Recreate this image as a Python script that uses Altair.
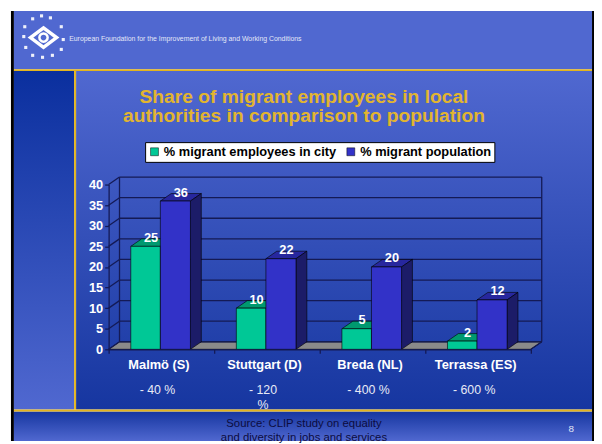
import altair as alt
import pandas as pd

# ---------------- data ----------------
cities = ["Malmö (S)", "Stuttgart (D)", "Breda (NL)", "Terrassa (ES)"]
employees_share = [25, 10, 5, 2]
population_share = [36, 22, 20, 12]
change_labels = ["- 40 %", "- 120\n%", "- 400 %", "- 600 %"]
series = ["% migrant employees in city", "% migrant population"]
y_ticks = [0, 5, 10, 15, 20, 25, 30, 35, 40]
title_lines = ["Share of migrant employees in local",
               "authorities in comparison to population"]
source_lines = ["Source: CLIP study on equality",
                "and diversity in jobs and services"]
header_text = "European Foundation for the Improvement of Living and Working Conditions"
page_number = "8"

# ---------------- styles ----------------
W, H = 594, 436
FONT = "Liberation Sans"
GREEN, GREEN_TOP = "#00c896", "#00996f"
BLUE, BLUE_TOP, BLUE_SIDE = "#3232c8", "#27279e", "#1c1c68"
GRID = "#141a55"
GOLD = "#e2b52f"
YELLOW = "#e3b41e"
LIGHT = "#5068d0"
DARK = "#1636a0"

XS = alt.Scale(domain=[0, 4], range=[102, 530], nice=False, zero=False)
YS = alt.Scale(domain=[0, 40], range=[343, 176], nice=False, zero=False)
DX, DY = 0.103, 1.82  # 3-D depth in data units

one = pd.DataFrame({"k": [0]})


def grad(top, bottom):
    return alt.LinearGradient(
        gradient="linear",
        stops=[alt.GradientStop(color=top, offset=0),
               alt.GradientStop(color=bottom, offset=1)],
        x1=0, x2=0, y1=0, y2=1)


def box(x, x2, y, y2, fill):
    return alt.Chart(one).mark_rect(fill=fill).encode(
        x=alt.value(x), x2=alt.value(x2), y=alt.value(y), y2=alt.value(y2))


def label(txt, x, y, size, color, weight="normal", align="center"):
    return alt.Chart(pd.DataFrame({"t": [txt]})).mark_text(
        font=FONT, fontSize=size, fontWeight=weight, color=color,
        align=align, baseline="middle").encode(
        x=alt.value(x), y=alt.value(y), text="t:N")


# ---------------- slide background ----------------
bg = [
    box(3, 6, 0, H, "black"),
    box(592, W, 0, H, "black"),
    box(6, 592, 0, 59, LIGHT),
    box(6, 67, 61, 404, grad("#0a2f9e", LIGHT)),
    box(69, 592, 61, 404, grad(LIGHT, DARK)),
    box(6, 592, 406, H, grad(DARK, LIGHT)),
    box(6, 592, 59, 61, YELLOW),
    box(67, 69, 61, 404, YELLOW),
    box(6, 592, 404, 406, YELLOW),
]

# ---------------- logo ----------------
logo_dots = pd.DataFrame({
    "ox": [-11, -2, 7, -19, 18, -20, 20, -18, 18, -11, -1, 9],
    "oy": [-19, -22, -20, -11, -11, -1, 2, 10, 12, 18, 20, 18],
})
LX, LY = 36, 27
logo_dots["px"] = LX + logo_dots["ox"]
logo_dots["py"] = LY + logo_dots["oy"]
dots = alt.Chart(logo_dots).mark_square(size=10, color="white", opacity=0.9).encode(
    x=alt.X("px:Q", scale=None), y=alt.Y("py:Q", scale=None))
diamond = alt.Chart(one).mark_point(
    shape="M-1,0L0,-0.75L1,0L0,0.75Z", size=700, filled=False,
    stroke="white", strokeWidth=3.5, opacity=1).encode(
    x=alt.value(LX), y=alt.value(LY))
inner = alt.Chart(one).mark_point(
    shape="circle", size=70, filled=False, stroke="white",
    strokeWidth=2.5, opacity=1).encode(x=alt.value(LX), y=alt.value(LY))
head_txt = alt.Chart(pd.DataFrame({"t": [header_text]})).mark_text(
    font=FONT, fontSize=7, color="white", align="left", baseline="middle",
    opacity=0.85).encode(x=alt.value(62), y=alt.value(28), text="t:N")

# ---------------- titles ----------------
title1 = label(title_lines[0], 300, 87, 19.5, GOLD, "bold")
title2 = label(title_lines[1], 300, 107, 19.5, GOLD, "bold")

# ---------------- 3-D frame ----------------
grid_rows = []
for v in y_ticks:
    grid_rows.append(dict(x=DX, x2=4 + DX, y=v + DY, y2=v + DY))
    grid_rows.append(dict(x=0, x2=DX, y=v, y2=v + DY))
grid_rows += [dict(x=DX, x2=DX, y=DY, y2=40 + DY),
              dict(x=4 + DX, x2=4 + DX, y=DY, y2=40 + DY),
              dict(x=4, x2=4 + DX, y=0, y2=DY)]
grid_df = pd.DataFrame(grid_rows)

floor_df = pd.DataFrame({"yy": [0, DY], "xa": [0, DX], "xb": [4, 4 + DX]})
floor = alt.Chart(floor_df).mark_area(
    orient="horizontal", fill="#8a8a8a", stroke="black", strokeWidth=0.8).encode(
    y=alt.Y("yy:Q", scale=YS, axis=None),
    x=alt.X("xa:Q", scale=XS, axis=None), x2="xb:Q")

yaxis = alt.Axis(values=y_ticks, offset=-102, title=None, grid=False, zindex=1,
                 labelColor="white", labelFont=FONT, labelFontSize=13,
                 labelFontWeight="bold", labelPadding=2,
                 tickColor=GRID, tickSize=4, tickWidth=1.3,
                 domainColor=GRID, domainWidth=1.3)
xaxis = alt.Axis(values=[0, 1, 2, 3, 4], offset=-93, title=None, grid=False,
                 labels=False, zindex=1, tickColor=GRID, tickSize=4,
                 tickWidth=1.3, domainColor=GRID, domainWidth=1.3)
grid = alt.Chart(grid_df).mark_rule(color=GRID, strokeWidth=1.3).encode(
    x=alt.X("x:Q", scale=XS, axis=xaxis), x2="x2:Q",
    y=alt.Y("y:Q", scale=YS, axis=yaxis), y2="y2:Q")

# ---------------- bars ----------------
rows = []
for i, c in enumerate(cities):
    ctr = i + 0.5
    for s, v, a, b in [(series[0], employees_share[i], -0.29, -0.01),
                       (series[1], population_share[i], -0.01, 0.275)]:
        rows.append(dict(city=c, series=s, v=v, x0=ctr + a, x1=ctr + b,
                         base=0, id=c + "|" + s))
bars = pd.DataFrame(rows)
bars["xc"] = (bars["x0"] + bars["x1"]) / 2 + DX / 2
bars["vt"] = bars["v"] + DY

tops = []
sides = []
for r in rows:
    tops.append(dict(id=r["id"], series=r["series"], yy=r["v"], xa=r["x0"], xb=r["x1"]))
    tops.append(dict(id=r["id"], series=r["series"], yy=r["v"] + DY,
                     xa=r["x0"] + DX, xb=r["x1"] + DX))
    sides.append(dict(id=r["id"], series=r["series"], xx=r["x1"], ya=r["v"], yb=0))
    sides.append(dict(id=r["id"], series=r["series"], xx=r["x1"] + DX,
                      ya=r["v"] + DY, yb=DY))
tops = pd.DataFrame(tops)
sides = pd.DataFrame(sides)


def top_layer(s, fill):
    return alt.Chart(tops[tops.series == s]).mark_area(
        orient="horizontal", fill=fill, stroke="black", strokeWidth=0.6).encode(
        y=alt.Y("yy:Q", scale=YS, axis=None),
        x=alt.X("xa:Q", scale=XS, axis=None), x2="xb:Q", detail="id:N")


def side_layer(s, fill):
    return alt.Chart(sides[sides.series == s]).mark_area(
        orient="vertical", fill=fill, stroke="black", strokeWidth=0.6).encode(
        x=alt.X("xx:Q", scale=XS, axis=None),
        y=alt.Y("ya:Q", scale=YS, axis=None), y2="yb:Q", detail="id:N")


front = alt.Chart(bars).mark_rect(stroke="black", strokeWidth=0.6).encode(
    x=alt.X("x0:Q", scale=XS, axis=None), x2="x1:Q",
    y=alt.Y("v:Q", scale=YS, axis=None), y2="base:Q",
    color=alt.Color("series:N",
                    scale=alt.Scale(domain=series, range=[GREEN, BLUE]),
                    legend=alt.Legend(
                        title=None, orient="none", legendX=139, legendY=133,
                        direction="horizontal", fillColor="white",
                        strokeColor="black", padding=3, symbolType="square",
                        symbolSize=64, symbolStrokeWidth=0.5,
                        symbolStrokeColor="black", labelLimit=400,
                        labelFont=FONT, labelFontSize=13,
                        labelFontWeight="bold", labelColor="black",
                        columnPadding=8, labelOffset=3)))

values = alt.Chart(bars).mark_text(
    font=FONT, fontSize=13, fontWeight="bold", color="white",
    baseline="middle", dy=-1).encode(
    x=alt.X("xc:Q", scale=XS, axis=None),
    y=alt.Y("vt:Q", scale=YS, axis=None), text="v:Q")

cat_df = pd.DataFrame({"city": cities, "chg": change_labels,
                       "c": [i + 0.5 for i in range(len(cities))]})
cat_labels = alt.Chart(cat_df).mark_text(
    font=FONT, fontSize=13, fontWeight="bold", color="white",
    baseline="middle", dx=-2.5).encode(
    x=alt.X("c:Q", scale=XS, axis=None), y=alt.value(359), text="city:N")
chg_labels = alt.Chart(cat_df).mark_text(
    font=FONT, fontSize=12.5, color="#e8eaf6", baseline="middle",
    dx=-4, lineBreak="\n", lineHeight=15).encode(
    x=alt.X("c:Q", scale=XS, axis=None), y=alt.value(384), text="chg:N")

# ---------------- footer ----------------
src1 = label(source_lines[0], 300, 419, 11.5, "#0c0c40")
src2 = label(source_lines[1], 300, 433, 11.5, "#0c0c40")
pnum = label(page_number, 571, 424, 10, "#e0e4f4")

layers = bg + [dots, diamond, inner, head_txt, title1, title2,
               floor, grid,
               top_layer(series[0], GREEN_TOP), top_layer(series[1], BLUE_TOP),
               side_layer(series[0], GREEN_TOP), side_layer(series[1], BLUE_SIDE),
               front, values, cat_labels, chg_labels, src1, src2, pnum]

chart = alt.layer(*layers).resolve_scale(
    x="independent", y="independent"
).properties(
    width=W, height=H, autosize=alt.AutoSizeParams(type="none"), padding=0,
    background="white"
).configure_view(stroke=None)

chart.save("out.html", embed_options={"renderer": "svg", "actions": False})
